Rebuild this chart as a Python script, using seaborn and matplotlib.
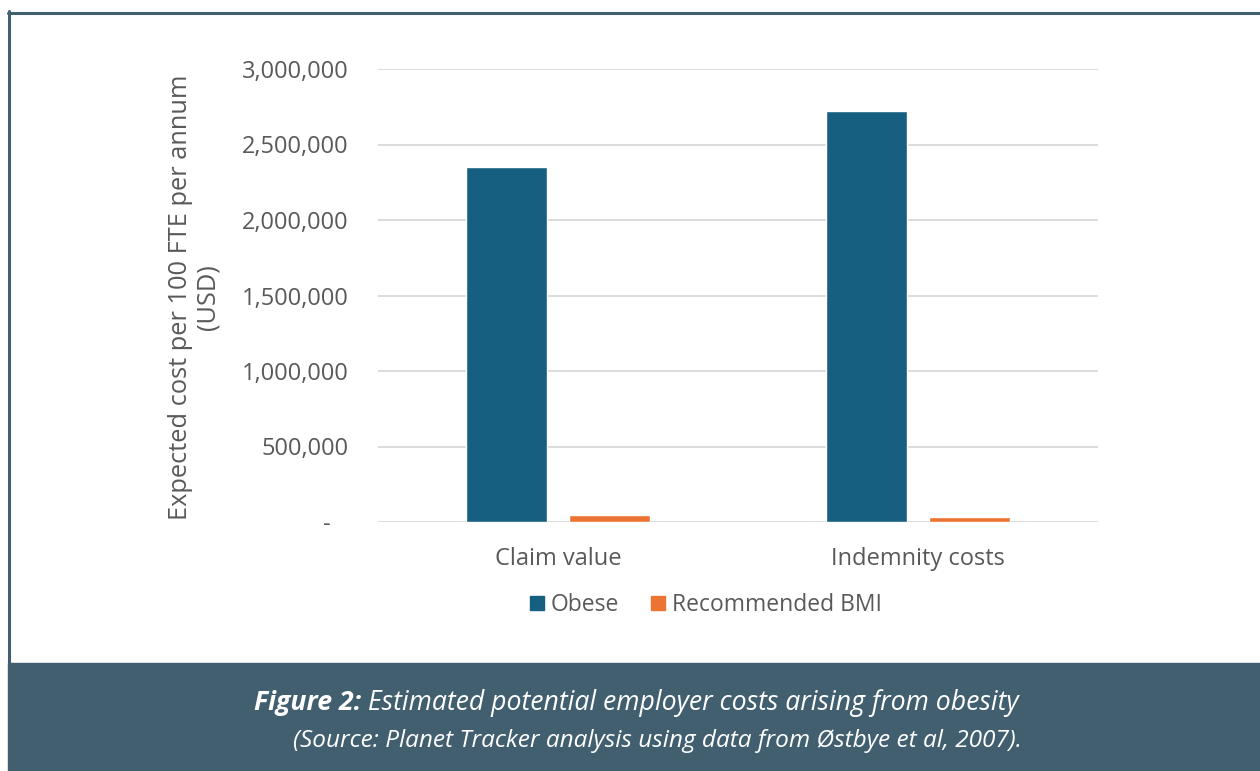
import seaborn as sns
import matplotlib.pyplot as plt
import matplotlib.patches as mpatches
import matplotlib.lines as mlines
from matplotlib.ticker import FuncFormatter
import pandas as pd

categories = ["Claim value", "Indemnity costs"]
obese = [2350000, 2725000]
recommended_bmi = [44000, 30000]
series = ["Obese", "Recommended BMI"]

df = pd.DataFrame({
    "category": categories * 2,
    "group": [series[0]] * 2 + [series[1]] * 2,
    "cost": obese + recommended_bmi,
})

sns.set_theme(style="white")
plt.rcParams["font.family"] = ["Open Sans", "DejaVu Sans"]

grey = "#595959"
band = "#415f6f"
pal = {"Obese": "#175f81", "Recommended BMI": "#ec7433"}

fig = plt.figure(figsize=(12.6, 7.71), dpi=100)
ax = fig.add_axes([378 / 1260, 1 - 522 / 771, 720 / 1260, 453 / 771])

sns.barplot(data=df, x="category", y="cost", hue="group", palette=pal,
            width=0.57, gap=0.21, saturation=1, ax=ax, legend=False)

ax.set_ylim(0, 3000000)
ax.set_xlim(-0.5, 1.5)
ax.set_yticks(range(0, 3000001, 500000))
ax.yaxis.set_major_formatter(FuncFormatter(lambda v, p: "-   " if v == 0 else f"{int(v):,}"))
ax.grid(axis="y", color="#d9d9d9", lw=1.3)
ax.set_axisbelow(True)
for s in ax.spines.values():
    s.set_visible(False)
ax.tick_params(axis="both", length=0, labelsize=17, labelcolor=grey)
ax.tick_params(axis="y", pad=21)
ax.tick_params(axis="x", pad=18)
ax.set_xlabel("")
ax.set_ylabel("")

fig.text(194 / 1260, 1 - 297 / 771, "Expected cost per 100 FTE per annum\n(USD)",
         rotation=90, ha="center", va="center", multialignment="center",
         fontsize=18.3, color=grey, linespacing=1.12)

handles = [mpatches.Patch(color=pal[s], label=s) for s in series]
fig.legend(handles=handles, loc="center", bbox_to_anchor=(706 / 1260, 1 - 605 / 771),
           ncol=2, frameon=False, fontsize=16.5, labelcolor=grey,
           handlelength=0.6, handleheight=0.6, handletextpad=0.3, columnspacing=1.4)

# frame and caption band
fig.patches.append(mpatches.Rectangle((8 / 1260, 0), 1, 108 / 771, transform=fig.transFigure,
                                      color=band, zorder=0))
fig.lines.append(mlines.Line2D([8 / 1260, 1], [1 - 12.5 / 771] * 2, transform=fig.transFigure,
                               color=band, lw=2.2))
fig.lines.append(mlines.Line2D([8.5 / 1260] * 2, [108 / 771, 1 - 11 / 771], transform=fig.transFigure,
                               color=band, lw=2.2))

renderer = fig.canvas.get_renderer()
y1 = 1 - 703 / 771
bold = fig.text(0, y1, "Figure 2:", fontsize=19.2, color="white", style="italic",
                fontweight="bold", ha="left", va="center")
rest = fig.text(0, y1, " Estimated potential employer costs arising from obesity", fontsize=19.2,
                color="white", style="italic", ha="left", va="center")
wb = bold.get_window_extent(renderer).width
wr = rest.get_window_extent(renderer).width
x0 = (636 - (wb + wr) / 2) / 1260
bold.set_x(x0)
rest.set_x(x0 + wb / 1260)
fig.text(657 / 1260, 1 - 741 / 771,
         "(Source: Planet Tracker analysis using data from \u00d8stbye et al, 2007).",
         fontsize=17.6, color="white", style="italic", ha="center", va="center")

plt.savefig("out.png", dpi=100)
